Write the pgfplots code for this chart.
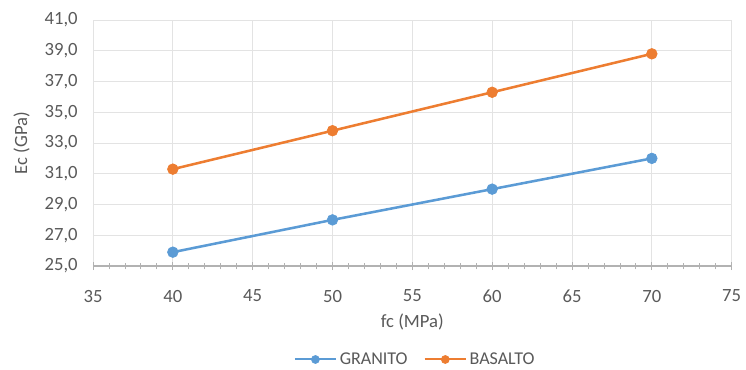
\documentclass[border=0pt]{standalone}
\usepackage{pgfplots}
\pgfplotsset{compat=1.18}
\usepackage{fontspec}
\setmainfont{Carlito}
\definecolor{txt}{HTML}{595959}
\definecolor{grid}{HTML}{E3E3E3}
\definecolor{blu}{HTML}{5B9BD5}
\definecolor{ora}{HTML}{ED7D31}
\begin{document}
\begin{tikzpicture}
\useasboundingbox (-69.75pt,-77.25pt) rectangle (489.75pt,199.5pt);
\begin{axis}[
  at={(0,0)}, anchor=south west,
  scale only axis, width=479pt, height=184.5pt,
  xmin=35, xmax=75, ymin=25, ymax=41,
  xtick={35,40,...,75}, ytick={25,27,...,41},
  minor x tick num=4,
  axis x line*=bottom, axis y line*=left,
  axis line style={-},
  x axis line style={draw=black!30, line width=0.8pt},
  y axis line style={draw=none},
  ytick style={draw=none},
  xtick style={draw=black!30, line width=0.6pt},
  tick align=center,
  major tick length=6pt, minor tick length=5pt,
  grid=major,
  major grid style={draw=grid, line width=0.6pt},
  /pgf/number format/assume math mode=true,
  ticklabel style={font=\fontsize{14}{16}\selectfont, text=txt},
  yticklabel={\pgfmathprintnumber[fixed, fixed zerofill, precision=1, use comma]{\tick}},
  yticklabel style={anchor=east, xshift=-5pt},
  xticklabel style={anchor=center, yshift=-19.5pt},
  xlabel={fc (MPa)}, ylabel={Ec (GPa)},
  every axis x label/.style={at={(axis description cs:0.5,-0.228)}, anchor=center,
    font=\fontsize{14}{16}\selectfont, text=txt},
  every axis y label/.style={at={(axis description cs:-0.112,0.5)}, anchor=center, rotate=90,
    font=\fontsize{14}{16}\selectfont, text=txt},
  legend style={at={(0.505,-0.38)}, anchor=center, draw=none, legend columns=2,
    font=\fontsize{13.5}{15}\selectfont, text=txt, inner sep=0pt,
    /tikz/every even column/.append style={column sep=10pt}},
  legend cell align=left,
  legend image code/.code={
    \draw[#1, mark=none, line width=1.5pt] (0pt,0pt) -- (31pt,0pt);
    \draw[#1, only marks, mark size=3pt] plot coordinates {(15.5pt,0pt)};
  },
]
\addplot[color=blu, line width=1.9pt, mark=*, mark size=4pt, mark options={line width=0.5pt}] coordinates {
  (40,25.9) (50,28.0) (60,30.0) (70,32.0)};
\addlegendentry{GRANITO}
\addplot[color=ora, line width=1.9pt, mark=*, mark size=4pt, mark options={line width=0.5pt}] coordinates {
  (40,31.3) (50,33.8) (60,36.3) (70,38.8)};
\addlegendentry{BASALTO}
\end{axis}
\end{tikzpicture}
\end{document}
